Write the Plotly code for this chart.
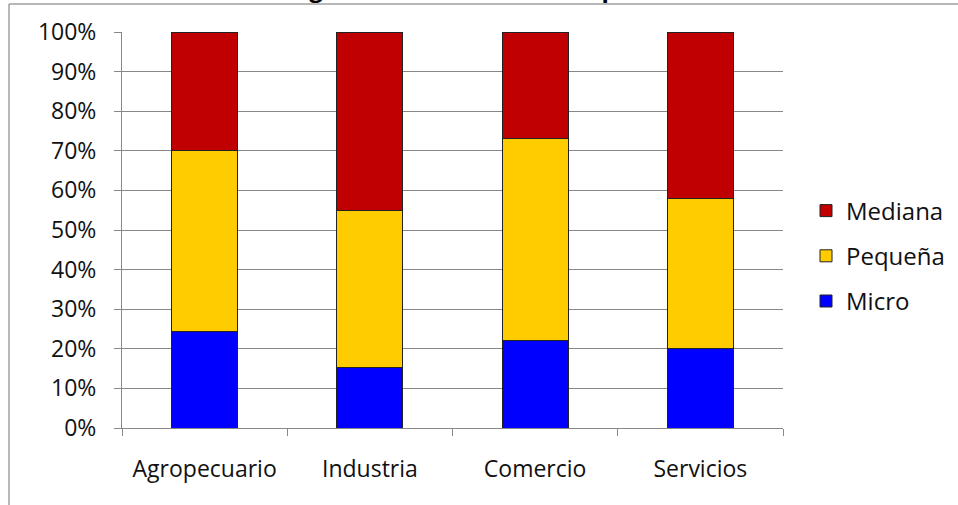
import plotly.graph_objects as go

categories = ["Agropecuario", "Industria", "Comercio", "Servicios"]
micro = [24.3, 15.2, 22.2, 20.0]
pequena = [45.7, 39.8, 50.8, 38.0]
mediana = [30.0, 45.0, 27.0, 42.0]
y_ticks = list(range(0, 101, 10))
y_tick_labels = [f"{v}%" for v in y_ticks]
title_text = "Distribución según el tamaño de las empresas"

FONT = "Open Sans"
TXT = "#111111"

# plot area in pixels
L, R, T, B = 122, 783, 32, 428
W, H = 958, 505
pw, ph = R - L, B - T

def px(x):
    return (x - L) / pw

def py(y):
    return (B - y) / ph

fig = go.Figure()
for name, vals, col, rank in [("Micro", micro, "#0000FF", 3),
                              ("Pequeña", pequena, "#FFCC00", 2),
                              ("Mediana", mediana, "#C00000", 1)]:
    fig.add_trace(go.Bar(x=categories, y=vals, name=name, legendgroup=name,
                         legendrank=rank,
                         marker=dict(color=col, line=dict(color="#222222", width=1))))

fig.update_layout(
    width=W, height=H,
    margin=dict(l=L, r=W - R, t=T, b=H - B, autoexpand=False),
    barmode="stack", bargap=0.6,
    plot_bgcolor="white", paper_bgcolor="white",
    font=dict(family=FONT, size=23, color=TXT),
    legend=dict(x=px(806), y=py(256), xanchor="left", yanchor="middle",
                traceorder="grouped", tracegroupgap=11,
                font=dict(family=FONT, size=24, color=TXT)),
    showlegend=True,
)
fig.update_xaxes(showline=True, linecolor="#888888", linewidth=1,
                 ticks="outside", tickson="boundaries", ticklen=7, tickcolor="#888888",
                 ticklabelstandoff=20, showgrid=False)
fig.update_yaxes(range=[0, 100], tickvals=y_ticks, ticktext=y_tick_labels,
                 showline=True, linecolor="#888888", linewidth=1,
                 ticks="outside", ticklen=7, tickcolor="#888888",
                 gridcolor="#888888", gridwidth=1, ticklabelstandoff=13,
                 zeroline=False)

# chart-area border (top and left)
fig.add_shape(type="line", xref="paper", yref="paper", x0=px(9), x1=px(W + 10),
              y0=py(4), y1=py(4), line=dict(color="#a0a0a0", width=1.5))
fig.add_shape(type="line", xref="paper", yref="paper", x0=px(9), x1=px(9),
              y0=py(4), y1=py(H + 10), line=dict(color="#a0a0a0", width=1.5))

# title, mostly cut off at the top of the image (as in the reference)
fig.add_annotation(text="<b>" + title_text + "</b>", xref="paper", yref="paper",
                   x=px(405), y=py(6), xanchor="center", yanchor="bottom",
                   showarrow=False, font=dict(family=FONT, size=24, color="#000000"))

fig.write_html("out.html")
